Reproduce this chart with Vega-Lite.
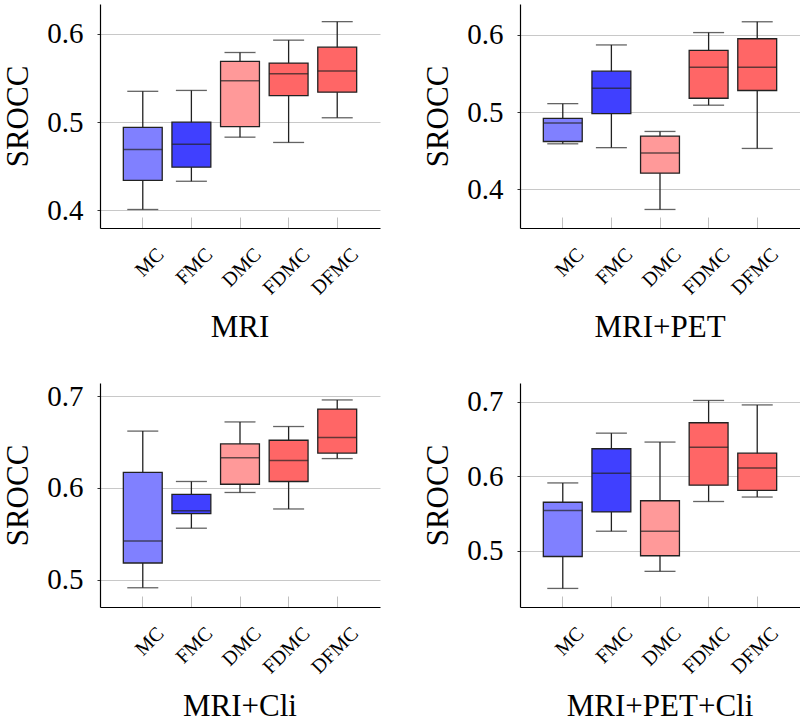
{
  "$schema": "https://vega.github.io/schema/vega-lite/v6.json",
  "padding": {"left": 2, "top": 4, "right": 3, "bottom": 0},
  "background": "white",
  "spacing": 38,
  "datasets": {
    "boxes": [
      {"panel": "MRI", "method": "MC", "lower": 0.401, "q1": 0.434, "median": 0.469, "q3": 0.494, "upper": 0.535},
      {"panel": "MRI", "method": "FMC", "lower": 0.433, "q1": 0.449, "median": 0.475, "q3": 0.500, "upper": 0.536},
      {"panel": "MRI", "method": "DMC", "lower": 0.483, "q1": 0.495, "median": 0.547, "q3": 0.569, "upper": 0.579},
      {"panel": "MRI", "method": "FDMC", "lower": 0.477, "q1": 0.530, "median": 0.555, "q3": 0.567, "upper": 0.593},
      {"panel": "MRI", "method": "DFMC", "lower": 0.505, "q1": 0.534, "median": 0.558, "q3": 0.585, "upper": 0.614},
      {"panel": "MRI+PET", "method": "MC", "lower": 0.459, "q1": 0.462, "median": 0.486, "q3": 0.492, "upper": 0.511},
      {"panel": "MRI+PET", "method": "FMC", "lower": 0.454, "q1": 0.498, "median": 0.531, "q3": 0.553, "upper": 0.587},
      {"panel": "MRI+PET", "method": "DMC", "lower": 0.374, "q1": 0.421, "median": 0.447, "q3": 0.469, "upper": 0.475},
      {"panel": "MRI+PET", "method": "FDMC", "lower": 0.509, "q1": 0.518, "median": 0.558, "q3": 0.580, "upper": 0.603},
      {"panel": "MRI+PET", "method": "DFMC", "lower": 0.453, "q1": 0.528, "median": 0.558, "q3": 0.595, "upper": 0.617},
      {"panel": "MRI+Cli", "method": "MC", "lower": 0.491, "q1": 0.518, "median": 0.542, "q3": 0.617, "upper": 0.662},
      {"panel": "MRI+Cli", "method": "FMC", "lower": 0.556, "q1": 0.572, "median": 0.575, "q3": 0.593, "upper": 0.607},
      {"panel": "MRI+Cli", "method": "DMC", "lower": 0.595, "q1": 0.604, "median": 0.633, "q3": 0.648, "upper": 0.672},
      {"panel": "MRI+Cli", "method": "FDMC", "lower": 0.577, "q1": 0.607, "median": 0.630, "q3": 0.652, "upper": 0.667},
      {"panel": "MRI+Cli", "method": "DFMC", "lower": 0.632, "q1": 0.638, "median": 0.655, "q3": 0.686, "upper": 0.696},
      {"panel": "MRI+PET+Cli", "method": "MC", "lower": 0.449, "q1": 0.492, "median": 0.554, "q3": 0.565, "upper": 0.591},
      {"panel": "MRI+PET+Cli", "method": "FMC", "lower": 0.526, "q1": 0.552, "median": 0.604, "q3": 0.637, "upper": 0.658},
      {"panel": "MRI+PET+Cli", "method": "DMC", "lower": 0.472, "q1": 0.493, "median": 0.526, "q3": 0.567, "upper": 0.646},
      {"panel": "MRI+PET+Cli", "method": "FDMC", "lower": 0.566, "q1": 0.588, "median": 0.639, "q3": 0.672, "upper": 0.702},
      {"panel": "MRI+PET+Cli", "method": "DFMC", "lower": 0.572, "q1": 0.581, "median": 0.611, "q3": 0.631, "upper": 0.696}
    ]
  },
  "data": {"name": "boxes"},
  "config": {
    "view": {"stroke": null},
    "font": "Liberation Serif",
    "title": {"font": "Liberation Serif", "fontSize": 31, "fontWeight": "normal", "color": "black", "orient": "bottom", "anchor": "middle", "offset": 15},
    "axis": {"labelFont": "Liberation Serif", "titleFont": "Liberation Serif", "labelColor": "black", "titleColor": "black", "domainColor": "black", "domainWidth": 1.2, "titleFontWeight": "normal"},
    "axisX": {"labelAngle": -45, "labelAlign": "right", "labelBaseline": "middle", "labelFontSize": 20, "tickSize": -11, "tickColor": "#c0c0c0", "tickWidth": 1, "labelPadding": 34, "labelOffset": 18, "grid": false, "title": null},
    "axisY": {"labelFontSize": 29, "titleFontSize": 31, "tickSize": 3, "tickColor": "#333", "gridColor": "#c8c8c8", "gridWidth": 1, "labelPadding": 14, "titlePadding": 12, "format": ".1f"}
  },
  "vconcat": [
    {
      "spacing": 42,
      "hconcat": [
        {
          "width": 280, "height": 224,
          "title": {"text": "MRI"},
          "transform": [{"filter": "datum.panel === 'MRI'"}],
          "encoding": {"x": {"field": "method", "type": "nominal", "sort": ["MC", "FMC", "DMC", "FDMC", "DFMC"], "scale": {"paddingInner": 0.2, "paddingOuter": 0.48}}},
          "layer": [
            {"mark": {"type": "rule", "color": "#222", "strokeWidth": 1.3},
             "encoding": {"y": {"field": "lower", "type": "quantitative", "title": "SROCC", "scale": {"domain": [0.38, 0.634], "nice": false, "zero": false}, "axis": {"values": [0.4, 0.5, 0.6]}}, "y2": {"field": "upper"}}},
            {"mark": {"type": "tick", "color": "#222", "size": 31, "thickness": 1.3}, "encoding": {"y": {"field": "lower", "type": "quantitative", "title": "SROCC"}}},
            {"mark": {"type": "tick", "color": "#222", "size": 31, "thickness": 1.3}, "encoding": {"y": {"field": "upper", "type": "quantitative", "title": "SROCC"}}},
            {"mark": {"type": "bar", "stroke": "#222", "strokeWidth": 1.3},
             "encoding": {"y": {"field": "q1", "type": "quantitative", "title": "SROCC"}, "y2": {"field": "q3"},
               "color": {"field": "method", "type": "nominal", "scale": {"domain": ["MC", "FMC", "DMC", "FDMC", "DFMC"], "range": ["#8080ff", "#4040ff", "#ff9999", "#ff6666", "#ff6666"]}, "legend": null}}},
            {"mark": {"type": "tick", "color": "#222", "size": 39, "thickness": 1.5}, "encoding": {"y": {"field": "median", "type": "quantitative", "title": "SROCC"}}}
          ]
        },
        {
          "width": 280, "height": 224,
          "title": {"text": "MRI+PET"},
          "transform": [{"filter": "datum.panel === 'MRI+PET'"}],
          "encoding": {"x": {"field": "method", "type": "nominal", "sort": ["MC", "FMC", "DMC", "FDMC", "DFMC"], "scale": {"paddingInner": 0.2, "paddingOuter": 0.48}}},
          "layer": [
            {"mark": {"type": "rule", "color": "#222", "strokeWidth": 1.3},
             "encoding": {"y": {"field": "lower", "type": "quantitative", "title": "SROCC", "scale": {"domain": [0.35, 0.64], "nice": false, "zero": false}, "axis": {"values": [0.4, 0.5, 0.6]}}, "y2": {"field": "upper"}}},
            {"mark": {"type": "tick", "color": "#222", "size": 31, "thickness": 1.3}, "encoding": {"y": {"field": "lower", "type": "quantitative", "title": "SROCC"}}},
            {"mark": {"type": "tick", "color": "#222", "size": 31, "thickness": 1.3}, "encoding": {"y": {"field": "upper", "type": "quantitative", "title": "SROCC"}}},
            {"mark": {"type": "bar", "stroke": "#222", "strokeWidth": 1.3},
             "encoding": {"y": {"field": "q1", "type": "quantitative", "title": "SROCC"}, "y2": {"field": "q3"},
               "color": {"field": "method", "type": "nominal", "scale": {"domain": ["MC", "FMC", "DMC", "FDMC", "DFMC"], "range": ["#8080ff", "#4040ff", "#ff9999", "#ff6666", "#ff6666"]}, "legend": null}}},
            {"mark": {"type": "tick", "color": "#222", "size": 39, "thickness": 1.5}, "encoding": {"y": {"field": "median", "type": "quantitative", "title": "SROCC"}}}
          ]
        }
      ]
    },
    {
      "spacing": 42,
      "hconcat": [
        {
          "width": 280, "height": 224,
          "title": {"text": "MRI+Cli"},
          "transform": [{"filter": "datum.panel === 'MRI+Cli'"}],
          "encoding": {"x": {"field": "method", "type": "nominal", "sort": ["MC", "FMC", "DMC", "FDMC", "DFMC"], "scale": {"paddingInner": 0.2, "paddingOuter": 0.48}}},
          "layer": [
            {"mark": {"type": "rule", "color": "#222", "strokeWidth": 1.3},
             "encoding": {"y": {"field": "lower", "type": "quantitative", "title": "SROCC", "scale": {"domain": [0.47, 0.7145], "nice": false, "zero": false}, "axis": {"values": [0.5, 0.6, 0.7]}}, "y2": {"field": "upper"}}},
            {"mark": {"type": "tick", "color": "#222", "size": 31, "thickness": 1.3}, "encoding": {"y": {"field": "lower", "type": "quantitative", "title": "SROCC"}}},
            {"mark": {"type": "tick", "color": "#222", "size": 31, "thickness": 1.3}, "encoding": {"y": {"field": "upper", "type": "quantitative", "title": "SROCC"}}},
            {"mark": {"type": "bar", "stroke": "#222", "strokeWidth": 1.3},
             "encoding": {"y": {"field": "q1", "type": "quantitative", "title": "SROCC"}, "y2": {"field": "q3"},
               "color": {"field": "method", "type": "nominal", "scale": {"domain": ["MC", "FMC", "DMC", "FDMC", "DFMC"], "range": ["#8080ff", "#4040ff", "#ff9999", "#ff6666", "#ff6666"]}, "legend": null}}},
            {"mark": {"type": "tick", "color": "#222", "size": 39, "thickness": 1.5}, "encoding": {"y": {"field": "median", "type": "quantitative", "title": "SROCC"}}}
          ]
        },
        {
          "width": 280, "height": 224,
          "title": {"text": "MRI+PET+Cli"},
          "transform": [{"filter": "datum.panel === 'MRI+PET+Cli'"}],
          "encoding": {"x": {"field": "method", "type": "nominal", "sort": ["MC", "FMC", "DMC", "FDMC", "DFMC"], "scale": {"paddingInner": 0.2, "paddingOuter": 0.48}}},
          "layer": [
            {"mark": {"type": "rule", "color": "#222", "strokeWidth": 1.3},
             "encoding": {"y": {"field": "lower", "type": "quantitative", "title": "SROCC", "scale": {"domain": [0.424, 0.7255], "nice": false, "zero": false}, "axis": {"values": [0.5, 0.6, 0.7]}}, "y2": {"field": "upper"}}},
            {"mark": {"type": "tick", "color": "#222", "size": 31, "thickness": 1.3}, "encoding": {"y": {"field": "lower", "type": "quantitative", "title": "SROCC"}}},
            {"mark": {"type": "tick", "color": "#222", "size": 31, "thickness": 1.3}, "encoding": {"y": {"field": "upper", "type": "quantitative", "title": "SROCC"}}},
            {"mark": {"type": "bar", "stroke": "#222", "strokeWidth": 1.3},
             "encoding": {"y": {"field": "q1", "type": "quantitative", "title": "SROCC"}, "y2": {"field": "q3"},
               "color": {"field": "method", "type": "nominal", "scale": {"domain": ["MC", "FMC", "DMC", "FDMC", "DFMC"], "range": ["#8080ff", "#4040ff", "#ff9999", "#ff6666", "#ff6666"]}, "legend": null}}},
            {"mark": {"type": "tick", "color": "#222", "size": 39, "thickness": 1.5}, "encoding": {"y": {"field": "median", "type": "quantitative", "title": "SROCC"}}}
          ]
        }
      ]
    }
  ]
}
